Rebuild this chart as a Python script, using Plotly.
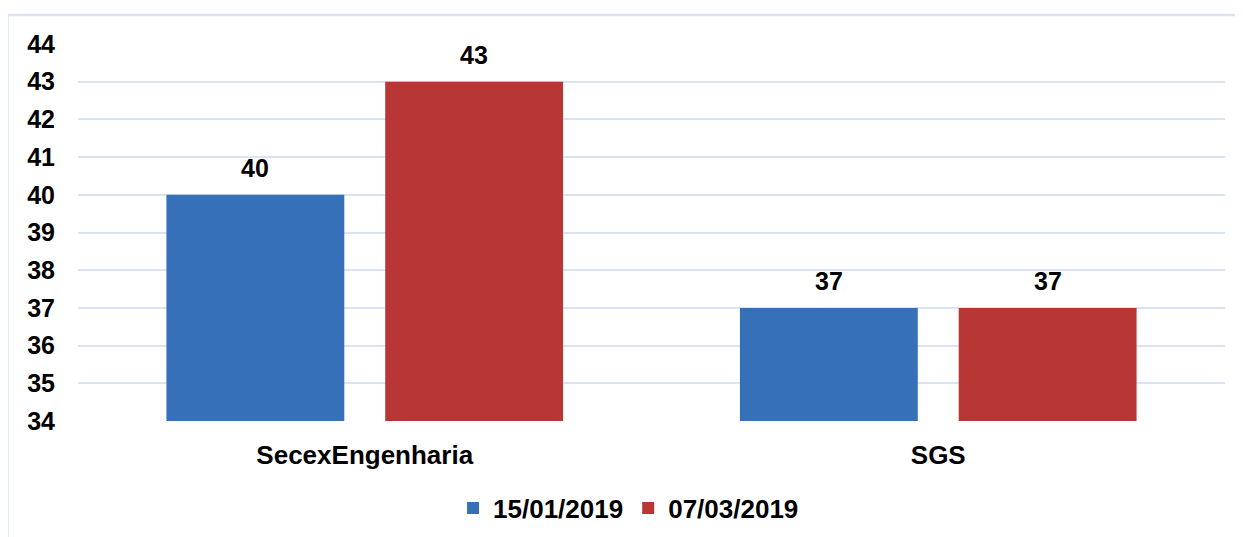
import plotly.graph_objects as go

categories = ["SecexEngenharia", "SGS"]
series_names = ["15/01/2019", "07/03/2019"]
values_s1 = [40, 37]
values_s2 = [43, 37]
colors = ["#3570B8", "#B83633"]
tick_vals = list(range(34, 45))

FONT = "Arial, Liberation Sans, sans-serif"
GRID = "#D9E4F2"

W, H = 1235, 529
ML, MR, MT, MB = 70, 18, 36, 116
BARGAP, GROUPGAP = 0.237, 0.187

fig = go.Figure()
series = [values_s1, values_s2]
for name, vals, col in zip(series_names, series, colors):
    fig.add_trace(go.Bar(
        x=categories, y=vals, name=name,
        marker=dict(color=col, line=dict(width=0)),
        cliponaxis=False,
    ))

# data labels placed above each bar
plot_w = W - ML - MR
slot = plot_w / len(categories) * (1 - BARGAP) / len(series)
for i, vals in enumerate(series):
    dx = (i - (len(series) - 1) / 2) * slot
    for c, v in zip(categories, vals):
        fig.add_annotation(x=c, y=v, text=f"<b>{v}</b>", showarrow=False,
                           xshift=dx, yshift=27, yanchor="middle",
                           font=dict(family=FONT, size=25, color="#000000"))

fig.update_layout(
    width=W, height=H,
    margin=dict(l=ML, r=MR, t=MT, b=MB, autoexpand=False),
    paper_bgcolor="white", plot_bgcolor="white",
    barmode="group", bargap=BARGAP, bargroupgap=GROUPGAP,
    font=dict(family=FONT, size=25, color="#000000"),
    showlegend=True,
    legend=dict(orientation="h", x=0.48, xanchor="center",
                yref="container", y=0.0548, yanchor="middle",
                font=dict(family=FONT, size=26, color="#000000", weight="bold"),
                itemwidth=30, traceorder="normal"),
)
fig.update_yaxes(range=[34, 44], tickvals=tick_vals, showgrid=True, gridcolor=GRID, gridwidth=2,
                 zeroline=False, showline=False, ticks="", ticklabelstandoff=22,
                 tickfont=dict(family=FONT, size=25, color="#000000", weight="bold"))
fig.update_xaxes(showgrid=False, showline=False, ticks="", ticklabelstandoff=16,
                 tickfont=dict(family=FONT, size=26, color="#000000", weight="bold"))

# outer chart border
fig.add_shape(type="rect", xref="paper", yref="paper",
              x0=-0.0615, x1=1.2, y0=-0.6, y1=1.0769,
              line=dict(color=GRID, width=2.5), fillcolor="rgba(0,0,0,0)", layer="below")

fig.write_html("out.html")
